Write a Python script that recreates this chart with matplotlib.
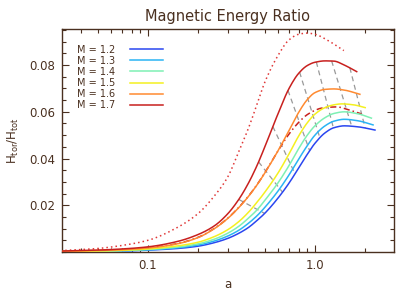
import numpy as np
import matplotlib
matplotlib.use('Agg')
import matplotlib.pyplot as plt
from matplotlib.ticker import MultipleLocator, FixedLocator, NullFormatter

# curve data: scale factor a and H_tor/H_tot for each M
labels = ['M = 1.2', 'M = 1.3', 'M = 1.4', 'M = 1.5', 'M = 1.6', 'M = 1.7']
colors = ['#2a46f0', '#2ab4f4', '#7ef0b4', '#f4f020', '#ff8a30', '#c8201e']

a_lo = [0.03, 0.05, 0.07, 0.1, 0.15, 0.2, 0.25, 0.3, 0.35, 0.4, 0.45, 0.5, 0.6, 0.7, 0.8, 0.9, 1.0, 1.15, 1.3]

a_m12 = a_lo + [1.5, 1.8, 2.29]
h_m12 = [0.0001, 0.0002, 0.0004, 0.0008, 0.0015, 0.0025, 0.0040, 0.0058, 0.0080, 0.0105, 0.0135, 0.0165,
         0.0230, 0.0295, 0.0360, 0.0418, 0.0465, 0.0510, 0.0532, 0.0540, 0.0536, 0.0522]
a_m13 = a_lo + [1.5, 1.8, 2.23]
h_m13 = [0.0001, 0.0003, 0.0005, 0.0009, 0.0018, 0.0030, 0.0047, 0.0068, 0.0093, 0.0123, 0.0155, 0.0190,
         0.0260, 0.0330, 0.0398, 0.0455, 0.0500, 0.0540, 0.0560, 0.0568, 0.0562, 0.0544]
a_m14 = a_lo + [1.5, 1.8, 2.18]
h_m14 = [0.0002, 0.0003, 0.0006, 0.0011, 0.0021, 0.0035, 0.0055, 0.0080, 0.0110, 0.0145, 0.0180, 0.0220,
         0.0295, 0.0370, 0.0443, 0.0500, 0.0540, 0.0575, 0.0593, 0.0600, 0.0592, 0.0573]
a_m15 = a_lo + [1.45, 1.7, 2.0]
h_m15 = [0.0002, 0.0004, 0.0007, 0.0013, 0.0026, 0.0042, 0.0066, 0.0095, 0.0130, 0.0170, 0.0213, 0.0255,
         0.0337, 0.0420, 0.0497, 0.0553, 0.0590, 0.0618, 0.0630, 0.0634, 0.0630, 0.0618]
a_m16 = a_lo + [1.5, 1.86]
h_m16 = [0.0003, 0.0006, 0.0010, 0.0017, 0.0035, 0.0062, 0.0100, 0.0143, 0.0190, 0.0238, 0.0287, 0.0337,
         0.0432, 0.0520, 0.0598, 0.0652, 0.0682, 0.0696, 0.0698, 0.0693, 0.0675]
a_m17 = a_lo + [1.5, 1.78]
h_m17 = [0.0004, 0.0008, 0.0013, 0.0022, 0.0045, 0.0075, 0.0112, 0.0163, 0.0225, 0.0295, 0.0370, 0.0448,
         0.0590, 0.0700, 0.0765, 0.0798, 0.0812, 0.0818, 0.0817, 0.0800, 0.0772]

# extra red curves (dash-dot and dotted)
a_dd = [0.03, 0.05, 0.07, 0.1, 0.15, 0.2, 0.25, 0.3, 0.35, 0.4, 0.45, 0.5, 0.6, 0.7, 0.8, 0.9, 1.0, 1.1, 1.35, 1.6, 1.9]
h_dd = [0.0003, 0.0006, 0.0010, 0.0018, 0.0036, 0.0063, 0.0101, 0.0144, 0.0191, 0.0239, 0.0288, 0.0338,
        0.0432, 0.0505, 0.0555, 0.0588, 0.0606, 0.0616, 0.0621, 0.0608, 0.0591]
a_dot = [0.03, 0.05, 0.07, 0.1, 0.15, 0.2, 0.25, 0.3, 0.35, 0.4, 0.45, 0.5, 0.6, 0.7, 0.8, 0.9, 1.0, 1.2, 1.49]
h_dot = [0.0006, 0.0015, 0.0028, 0.0050, 0.0105, 0.0165, 0.0240, 0.0320, 0.0430, 0.0530, 0.0632, 0.0725,
         0.0840, 0.0908, 0.0932, 0.0937, 0.0932, 0.0905, 0.0862]

# grey dashed connectors: a on the M=1.7 curve -> a on the M=1.2 curve
conn_top = [0.35, 0.46, 0.56, 0.69, 0.81, 1.02, 1.26, 1.62]
conn_bot = [0.50, 0.64, 0.76, 0.93, 1.07, 1.29, 1.66, 2.0]

curves_a = [a_m12, a_m13, a_m14, a_m15, a_m16, a_m17]
curves_h = [h_m12, h_m13, h_m14, h_m15, h_m16, h_m17]

txt = '#4a3020'
plt.rcParams['font.family'] = 'DejaVu Sans'


def pchip(xs, ys, xn):
	# monotone cubic through the read-off points
	x = np.asarray(xs, float)
	y = np.asarray(ys, float)
	h = np.diff(x)
	d = np.diff(y) / h
	m = np.zeros_like(y)
	m[0] = d[0]
	m[-1] = d[-1]
	for k in range(1, len(x) - 1):
		if d[k - 1] * d[k] <= 0:
			m[k] = 0
		else:
			w1 = 2 * h[k] + h[k - 1]
			w2 = h[k] + 2 * h[k - 1]
			m[k] = (w1 + w2) / (w1 / d[k - 1] + w2 / d[k])
	idx = np.clip(np.searchsorted(x, xn) - 1, 0, len(x) - 2)
	t = (xn - x[idx]) / h[idx]
	h00 = 2 * t**3 - 3 * t**2 + 1
	h10 = t**3 - 2 * t**2 + t
	h01 = -2 * t**3 + 3 * t**2
	h11 = t**3 - t**2
	return h00 * y[idx] + h10 * h[idx] * m[idx] + h01 * y[idx + 1] + h11 * h[idx] * m[idx + 1]


def smooth(xs, ys):
	lx = np.log10(xs)
	fine = np.linspace(lx[0], lx[-1], 300)
	return 10**fine, pchip(lx, ys, fine)


def on_curve(a, xs, ys):
	return pchip(np.log10(xs), ys, np.array([np.log10(a)]))[0]


fig = plt.figure(figsize=(4.15, 2.97), dpi=100)
ax = fig.add_axes([0.149, 0.1515, 0.8, 0.7505])
ax.set_xscale('log')

for t, b in zip(conn_top, conn_bot):
	ax.plot([t, b], [on_curve(t, a_m17, h_m17), on_curve(b, a_m12, h_m12)],
		color='#999999', lw=0.9, dashes=(4, 3), zorder=1)

for i in range(6):
	xs, ys = smooth(curves_a[i], curves_h[i])
	ax.plot(xs, ys, color=colors[i], lw=1.1, label=labels[i], zorder=3)

xs, ys = smooth(a_dd, h_dd)
ax.plot(xs, ys, color='#c8201e', lw=1.1, dashes=(4, 2, 1, 2), zorder=2)
xs, ys = smooth(a_dot, h_dot)
ax.plot(xs, ys, color='#e03838', lw=1.1, dashes=(1, 2), zorder=2)

ax.set_xlim(0.0305, 2.97)
ax.set_ylim(0, 0.0954)
ax.xaxis.set_major_locator(FixedLocator([0.1, 1.0]))
ax.set_xticklabels(['0.1', '1.0'])
ax.xaxis.set_minor_formatter(NullFormatter())
ax.set_yticks([0.02, 0.04, 0.06, 0.08])
ax.set_yticklabels(['0.02', '0.04', '0.06', '0.08'])
ax.yaxis.set_minor_locator(MultipleLocator(0.005))

ax.tick_params(which='both', direction='in', top=True, right=True, colors=txt, labelsize=8.5, width=0.8)
ax.tick_params(which='major', length=5, pad=5)
ax.tick_params(which='minor', length=3)
for s in ax.spines.values():
	s.set_color(txt)
	s.set_linewidth(1.0)

ax.set_title('Magnetic Energy Ratio', color=txt, fontsize=10.5, pad=6)
ax.set_xlabel('a', color=txt, fontsize=8.5, labelpad=4)
ax.set_ylabel(r'H$_{\rm tor}$/H$_{\rm tot}$', color=txt, fontsize=8.5, labelpad=6)

leg = ax.legend(loc='upper left', bbox_to_anchor=(0.02, 0.97), frameon=False, markerfirst=False,
	fontsize=7, handlelength=3.4, labelspacing=0.12, handletextpad=1.5)
for t in leg.get_texts():
	t.set_color(txt)

fig.savefig('out.png', dpi=100)
